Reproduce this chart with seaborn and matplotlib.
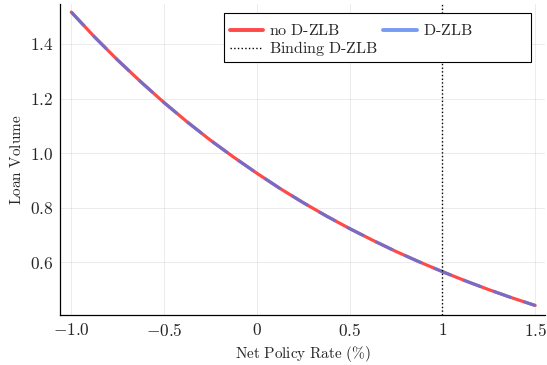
import numpy as np
import pandas as pd
import matplotlib
matplotlib.use("Agg")
import matplotlib.pyplot as plt
from matplotlib.patches import Rectangle
import seaborn as sns

# Values
policy_rate = [-1.0, -0.875, -0.75, -0.625, -0.5, -0.375, -0.25, -0.125, 0.0,
               0.125, 0.25, 0.375, 0.5, 0.625, 0.75, 0.875, 1.0,
               1.125, 1.25, 1.375, 1.5]
loans_no_dzlb = [1.517, 1.426, 1.341, 1.261, 1.185, 1.114, 1.047, 0.985, 0.926,
                 0.870, 0.818, 0.769, 0.723, 0.680, 0.639, 0.601, 0.565,
                 0.531, 0.499, 0.469, 0.441]
loans_dzlb = [1.517, 1.426, 1.341, 1.261, 1.185, 1.114, 1.047, 0.985, 0.926,
              0.870, 0.818, 0.769, 0.723, 0.680, 0.639, 0.601, 0.565,
              0.531, 0.499, 0.469, 0.441]
binding_rate = 1.0

x_ticks = [-1.0, -0.5, 0.0, 0.5, 1.0, 1.5]
x_ticklabels = ["$-1.0$", "$-0.5$", "$0$", "$0.5$", "$1$", "$1.5$"]
y_ticks = [0.6, 0.8, 1.0, 1.2, 1.4]
y_ticklabels = ["$0.6$", "$0.8$", "$1.0$", "$1.2$", "$1.4$"]

sns.set_style("white")
plt.rcParams.update({
    "mathtext.fontset": "cm",
    "font.family": ["cmr10", "DejaVu Sans"],
    "axes.formatter.use_mathtext": True,
})

df = pd.DataFrame({"rate": policy_rate, "no": loans_no_dzlb, "yes": loans_dzlb})

fig, ax = plt.subplots(figsize=(5.47, 3.65), dpi=100)

sns.lineplot(data=df, x="rate", y="no", ax=ax, color="#ff2a2a", alpha=0.85,
             linewidth=2.3, label=r"$\mathrm{no\ D\text{-}ZLB}$")
sns.lineplot(data=df, x="rate", y="yes", ax=ax, color="#4a78f0", alpha=0.75,
             linewidth=2.3, linestyle=(0, (6, 4)), label=r"$\mathrm{D\text{-}ZLB}$")
ax.axvline(binding_rate, color="black", linestyle=":", linewidth=1.0,
           label=r"$\mathrm{Binding\ D\text{-}ZLB}$")

ax.set_xlim(-1.06, 1.555)
ax.set_ylim(0.406, 1.548)
ax.set_xticks(x_ticks)
ax.set_xticklabels(x_ticklabels, fontsize=12.5)
ax.set_yticks(y_ticks)
ax.set_yticklabels(y_ticklabels, fontsize=12.5)
ax.set_xlabel(r"$\mathrm{Net\ Policy\ Rate\ (\%)}$", fontsize=11)
ax.set_ylabel(r"$\mathrm{Loan\ Volume}$", fontsize=11)

ax.grid(True, color="black", alpha=0.08, linewidth=0.7)
ax.tick_params(direction="in", length=4, width=0.8, color="black", pad=5)
for side in ["top", "right"]:
    ax.spines[side].set_visible(False)
for side in ["left", "bottom"]:
    ax.spines[side].set_color("black")
    ax.spines[side].set_linewidth(0.9)

# legend box is wider than its entries, as in the reference
box = Rectangle((0.338, 0.814), 0.633, 0.157, transform=ax.transAxes,
                facecolor="white", edgecolor="black", linewidth=0.8,
                zorder=4.5, clip_on=False)
ax.add_patch(box)

handles, labels = ax.get_legend_handles_labels()
# order: no D-ZLB, Binding D-ZLB in first column; D-ZLB in second
order = [0, 2, 1]
leg = ax.legend([handles[i] for i in order], [labels[i] for i in order],
                ncol=2, loc="upper left", bbox_to_anchor=(0.331, 0.965),
                fontsize=11.5, frameon=False, borderpad=0.55, labelspacing=0.05,
                handlelength=2.1, handletextpad=0.4, columnspacing=0.3,
                borderaxespad=0)
leg.set_zorder(5)
for line in leg.get_lines():
    if line.get_linestyle() != ":":
        line.set_linestyle("-")
        line.set_linewidth(2.8)

fig.subplots_adjust(left=0.11, right=0.997, bottom=0.137, top=0.99)
fig.savefig("out.png", dpi=100)
